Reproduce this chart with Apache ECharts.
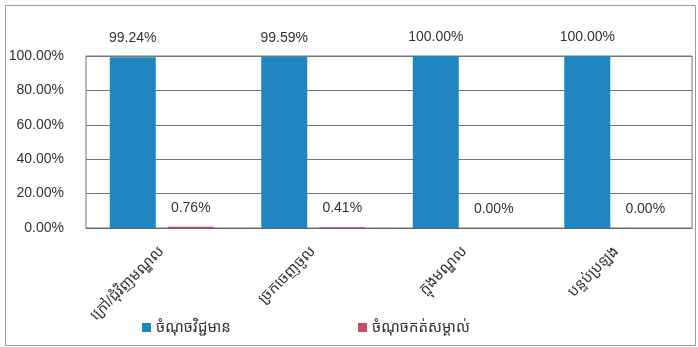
<!DOCTYPE html>
<html>
<head>
<meta charset="utf-8">
<script src="https://cdn.jsdelivr.net/npm/echarts@6/dist/echarts.min.js"></script>
<style>
html,body{margin:0;padding:0;background:#fff;}
#c{width:698px;height:347px;}
</style>
</head>
<body>
<div id="c"></div>
<script>
var categories = ['ក្រៅ/ជុំវិញមណ្ឌល', 'ច្រកចេញចូល', 'ក្នុងមណ្ឌល', 'បន្ទប់ប្រឡង'];
var seriesNames = ['ចំណុចវិជ្ជមាន', 'ចំណុចកត់សម្គាល់'];
var positiveValues = [99.24, 99.59, 100.00, 100.00];
var notedValues = [0.76, 0.41, 0.00, 0.00];
var yTicks = [0, 20, 40, 60, 80, 100];

var FONT = "'Liberation Sans', Arial, 'Noto Sans Khmer', 'Khmer OS', sans-serif";
var chart = echarts.init(document.getElementById('c'), null, {renderer: 'canvas'});
var labelStyle = {
  show: true, position: 'top', distance: 12,
  color: '#333', fontSize: 14, fontFamily: FONT,
  formatter: function (p) { return p.value.toFixed(2) + '%'; }
};
chart.setOption({
  animation: false,
  backgroundColor: '#fff',
  graphic: [{
    type: 'rect', left: 3, top: 3, silent: true,
    shape: {width: 690, height: 340},
    style: {fill: 'none', stroke: '#9a9a9a', lineWidth: 1}
  }],
  legend: [{
    left: 137, top: 315, itemWidth: 9, itemHeight: 9,
    icon: 'rect', data: [seriesNames[0]],
    textStyle: {fontSize: 15, color: '#333', fontFamily: FONT}
  }, {
    left: 353, top: 315, itemWidth: 9, itemHeight: 9,
    icon: 'rect', data: [seriesNames[1]],
    textStyle: {fontSize: 15, color: '#333', fontFamily: FONT}
  }],
  grid: {
    left: 86, right: 6, top: 56, bottom: 119,
    show: true, borderColor: '#777', borderWidth: 1
  },
  xAxis: {
    type: 'category', data: categories,
    axisLine: {show: true, lineStyle: {color: '#666'}},
    axisTick: {show: false},
    axisLabel: {
      rotate: 45, margin: 21, interval: 0,
      fontSize: 15, color: '#333', fontFamily: FONT
    }
  },
  yAxis: {
    type: 'value', min: yTicks[0], max: yTicks[yTicks.length - 1], interval: 20,
    axisLine: {show: false}, axisTick: {show: false},
    splitLine: {lineStyle: {color: '#777', width: 1}},
    axisLabel: {
      margin: 22, fontSize: 14, color: '#333', fontFamily: FONT,
      formatter: function (v) { return v.toFixed(2) + '%'; }
    }
  },
  series: [{
    name: seriesNames[0], type: 'bar', data: positiveValues,
    barWidth: 46, barGap: '26%',
    itemStyle: {color: '#1f86bf'},
    label: labelStyle
  }, {
    name: seriesNames[1], type: 'bar', data: notedValues,
    barWidth: 46, barGap: '26%',
    itemStyle: {color: '#c05069'},
    label: labelStyle
  }]
});
</script>
</body>
</html>
